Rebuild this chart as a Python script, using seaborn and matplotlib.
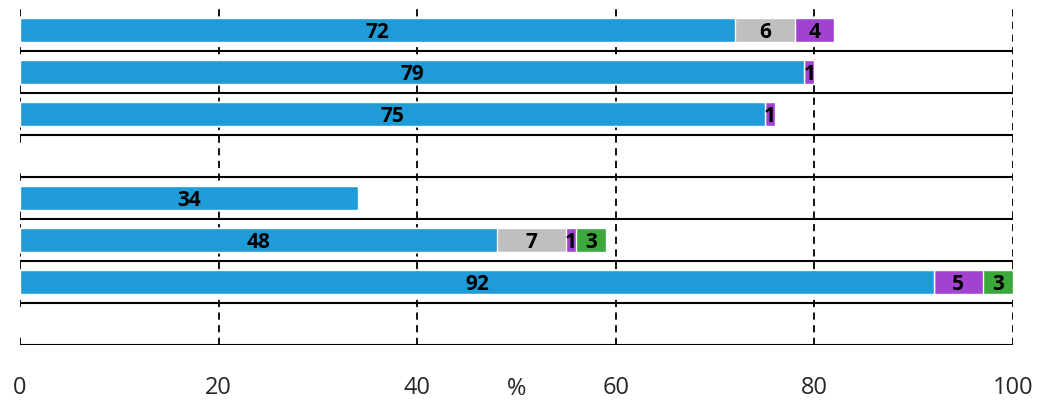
import numpy as np
import pandas as pd
import matplotlib
matplotlib.use("Agg")
import matplotlib.pyplot as plt
import seaborn as sns

rows = ["r1", "r2", "r3", "r4", "r5", "r6", "r7", "r8"]
blue = [72, 79, 75, 0, 34, 48, 92, 0]
gray = [6, 0, 0, 0, 0, 7, 0, 0]
purple = [4, 1, 1, 0, 0, 1, 5, 0]
green = [0, 0, 0, 0, 0, 3, 3, 0]
xticks = [0, 20, 40, 60, 80, 100]

sns.set_style("white")
plt.rcParams["font.family"] = ["Open Sans", "DejaVu Sans"]

fig = plt.figure(figsize=(10.49, 4.11), dpi=100)
ax = fig.add_axes([20 / 1049, 1 - 345 / 411, 993 / 1049, 336 / 411])

layers = [blue, gray, purple, green]
colors = ["#1f9bd8", "#bfbfbf", "#a142d0", "#3aa83a"]
cum = np.cumsum(np.array(layers), axis=0)
# draw cumulative totals from the largest down so the stack shows
for k in range(3, -1, -1):
    df = pd.DataFrame({"row": rows, "val": cum[k]})
    sns.barplot(data=df, x="val", y="row", orient="h", color=colors[k],
                width=0.55, saturation=1, ax=ax, zorder=2)

starts = np.vstack([np.zeros(len(rows)), cum[:-1]])
for k in range(4):
    for i in range(len(rows)):
        v = layers[k][i]
        if v > 0:
            ax.text(starts[k][i] + v / 2, i + 0.05, str(v), ha="center", va="center",
                    fontsize=15, fontweight="bold", color="black", zorder=3)

for i in range(len(rows)):
    ax.axhline(i + 0.5, color="black", lw=1.5, zorder=1)
for x in xticks:
    ax.axvline(x, color="black", lw=1.3, ls=(0, (4, 3)), zorder=0)

ax.set_xlim(0, 100)
ax.set_ylim(7.5, -0.5)
ax.set_xticks(xticks)
ax.set_xticklabels([str(x) for x in xticks], fontsize=17)
ax.tick_params(axis="x", length=0, pad=22)
ax.set_yticks([])
ax.set_xlabel("")
ax.set_ylabel("")
for s in ax.spines.values():
    s.set_visible(False)
ax.text(50, 8.55, "%", ha="center", va="center", fontsize=17)

fig.savefig("out.png", dpi=100)
